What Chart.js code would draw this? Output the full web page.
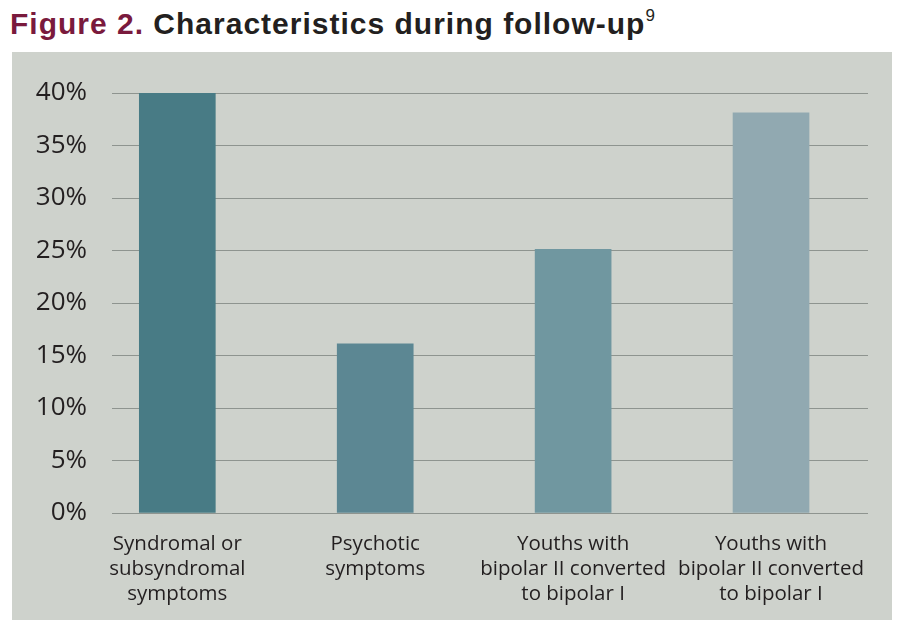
<!DOCTYPE html>
<html>
<script src="https://cdn.jsdelivr.net/npm/chart.js"></script>
<style>
body { margin: 0; background: #fff; }
#title { position: absolute; left: 10px; top: 8px; font-family: "Liberation Sans", Arial, sans-serif; font-weight: bold; font-size: 30px; line-height: 31px; letter-spacing: 1px; color: #231f20; white-space: nowrap; }
#title .fig { color: #7a1a3d; }
#title sup { font-size: 17px; font-weight: normal; vertical-align: 13px; line-height: 0; letter-spacing: 0; }
#panel { position: absolute; left: 12px; top: 52px; width: 880px; height: 568px; background: #ced2cc; }
#myChart { position: absolute; left: 0; top: 0; }
</style>
<body>
<div id="title"><span class="fig">Figure 2.</span> Characteristics during follow-up<sup>9</sup></div>
<div id="panel"></div>
<canvas id="myChart" width="903" height="632"></canvas>
</body>

<script>
// categories (multi-line labels) and values in percent
var categories = [
  ["Syndromal or", "subsyndromal", "symptoms"],
  ["Psychotic", "symptoms"],
  ["Youths with", "bipolar II converted", "to bipolar I"],
  ["Youths with", "bipolar II converted", "to bipolar I"]
];
var values = [40, 16.1, 25.1, 38.1];
var yTicks = [0, 5, 10, 15, 20, 25, 30, 35, 40];

var barColors = ["#487b85", "#5c8793", "#7097a0", "#91a9b1"];
var textColor = "#231f20";

var points = values.map(function (v, i) { return {x: i, y: v}; });

new Chart("myChart", {
  type: "bar",
  data: {
    datasets: [{
      data: points,
      backgroundColor: barColors,
      borderWidth: 0,
      barThickness: 76
    }]
  },
  options: {
    responsive: false,
    animation: false,
    layout: {padding: {top: 93, right: 35, left: 0, bottom: 0}},
    plugins: {legend: {display: false}, tooltip: {enabled: false}},
    scales: {
      x: {
        type: "linear",
        offset: false,
        min: -0.33,
        max: 3.49,
        grid: {display: false},
        border: {display: false},
        afterFit: function (s) { s.height = 119; },
        afterBuildTicks: function (s) {
          s.ticks = categories.map(function (c, i) { return {value: i}; });
        },
        ticks: {
          padding: 11,
          color: textColor,
          font: {family: "'Open Sans'", size: 20.5, lineHeight: 1.22},
          maxRotation: 0,
          autoSkip: false,
          callback: function (v) { return categories[v]; }
        }
      },
      y: {
        min: 0,
        max: 40,
        grid: {color: "#8e948f", lineWidth: 1, drawTicks: false},
        border: {display: false},
        afterFit: function (s) { s.width = 112; },
        afterBuildTicks: function (s) {
          s.ticks = yTicks.map(function (t) { return {value: t}; });
        },
        ticks: {
          padding: 25,
          color: textColor,
          font: {family: "'Open Sans'", size: 26},
          callback: function (v) { return v + "%"; }
        }
      }
    }
  }
});
</script>
</html>
